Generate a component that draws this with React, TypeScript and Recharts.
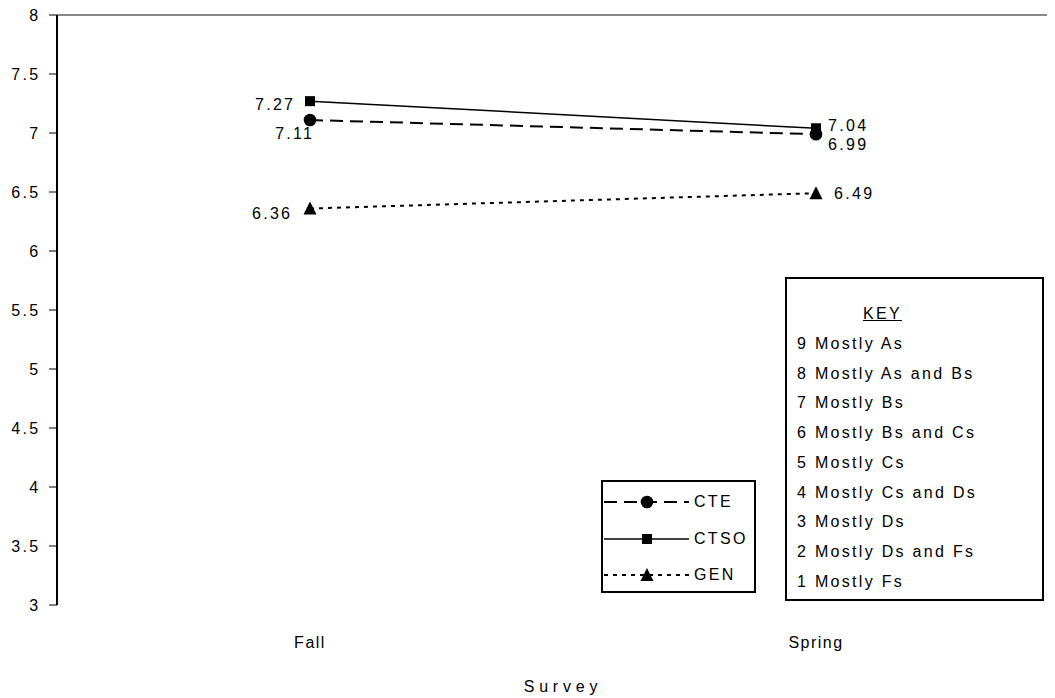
import { LineChart, Line, XAxis, YAxis, ReferenceLine, Legend, LabelList } from 'recharts'

// survey rounds
const seasons = ['Fall', 'Spring']

// average self-reported grades (9 = mostly As ... 1 = mostly Fs)
const cte = [7.11, 6.99]
const ctso = [7.27, 7.04]
const gen = [6.36, 6.49]

const yTicks = [3, 3.5, 4, 4.5, 5, 5.5, 6, 6.5, 7, 7.5, 8]

const keyItems = [
  '9 Mostly As',
  '8 Mostly As and Bs',
  '7 Mostly Bs',
  '6 Mostly Bs and Cs',
  '5 Mostly Cs',
  '4 Mostly Cs and Ds',
  '3 Mostly Ds',
  '2 Mostly Ds and Fs',
  '1 Mostly Fs',
]

const data = seasons.map((s, i) => ({ season: s, cte: cte[i], ctso: ctso[i], gen: gen[i] }))

const W = 1080
const H = 698
const LEFT = 57
const RIGHT = 11
const TOP = 15
const PLOT_W = W - LEFT - RIGHT
const FONT = 16
const LS = 2.3

type Shape = 'circle' | 'square' | 'triangle'

// per-series look, label placement (left label for Fall, right label for Spring)
const series = [
  { key: 'cte', name: 'CTE', dash: '13 7', width: 2, shape: 'circle' as Shape, dx: [4.3, 12], dy: [13, 10] },
  { key: 'ctso', name: 'CTSO', dash: undefined, width: 1.5, shape: 'square' as Shape, dx: [-14.7, 12], dy: [3, -3] },
  { key: 'gen', name: 'GEN', dash: '4 5', width: 2, shape: 'triangle' as Shape, dx: [-17.7, 18], dy: [5, 0] },
]

function Marker({ cx, cy, shape }: { cx: number; cy: number; shape: Shape }) {
  if (shape === 'circle') return <circle cx={cx} cy={cy} r={6.3} fill="#000" />
  if (shape === 'square') return <rect x={cx - 5} y={cy - 5} width={10} height={10} fill="#000" />
  return <polygon points={`${cx},${cy - 7} ${cx - 6.5},${cy + 6} ${cx + 6.5},${cy + 6}`} fill="#000" />
}

function LegendBox() {
  return (
    <div
      style={{
        width: 155,
        height: 113,
        boxSizing: 'border-box',
        border: '2px solid #000',
        background: '#fff',
        paddingTop: 2,
      }}
    >
      {series.map((s) => (
        <div key={s.key} style={{ height: 36.5, display: 'flex', alignItems: 'center' }}>
          <svg width={88} height={20} style={{ marginLeft: 1, display: 'block' }}>
            <line x1={0} y1={10} x2={85} y2={10} stroke="#000" strokeWidth={s.width} strokeDasharray={s.dash} />
            <Marker cx={43} cy={10} shape={s.shape} />
          </svg>
          <span style={{ marginLeft: 2, fontSize: FONT, color: '#000' }}>{s.name}</span>
        </div>
      ))}
    </div>
  )
}

function makeLabel(s: (typeof series)[number]) {
  return (props: any) => {
    const { x, y, value, index } = props
    const left = index === 0
    return (
      <text
        x={x + s.dx[index]}
        y={y + s.dy[index]}
        textAnchor={left ? 'end' : 'start'}
        dominantBaseline="central"
        fontSize={FONT}
        fill="#000"
      >
        {value.toFixed(2)}
      </text>
    )
  }
}

export default function App() {
  return (
    <div
      style={{
        position: 'relative',
        margin: '-8px -8px 0 -8px',
        width: 1055,
        height: 698,
        overflow: 'hidden',
        background: '#fff',
        fontFamily: '"Liberation Sans", Arial, sans-serif',
        letterSpacing: `${LS}px`,
      }}
    >
      <LineChart width={W} height={H} data={data} margin={{ top: TOP, right: RIGHT, bottom: 0, left: 0 }}>
        <XAxis
          xAxisId="marks"
          type="number"
          domain={[0, 2]}
          ticks={[0, 1, 2]}
          allowDataOverflow
          height={0}
          tick={false}
          tickSize={7}
          axisLine={{ stroke: '#000', strokeWidth: 2 }}
          tickLine={{ stroke: '#000', strokeWidth: 1 }}
        />
        <XAxis
          xAxisId="labels"
          dataKey="season"
          height={H - 605}
          padding={{ left: PLOT_W / 4, right: PLOT_W / 4 }}
          axisLine={false}
          tickLine={false}
          tickMargin={26}
          tick={{ fill: '#000', fontSize: FONT, letterSpacing: 1.5 }}
          label={{
            value: 'Survey',
            position: 'insideBottom',
            offset: 6,
            fill: '#000',
            fontSize: FONT,
            letterSpacing: 4.8,
            style: { letterSpacing: '4.8px' },
          }}
        />
        <YAxis
          domain={[3, 8]}
          ticks={yTicks}
          width={LEFT}
          interval={0}
          axisLine={{ stroke: '#000', strokeWidth: 2 }}
          tickLine={{ stroke: '#000' }}
          tickSize={8}
          tickMargin={8.5}
          tick={{ fill: '#000', fontSize: FONT }}
        />
        <ReferenceLine xAxisId="marks" y={8} stroke="#888" strokeWidth={2} />
        <Legend
          layout="vertical"
          align="center"
          verticalAlign="middle"
          wrapperStyle={{ position: 'absolute', left: 601, top: 480, width: 155, height: 113 }}
          content={() => <LegendBox />}
        />
        {series.map((s) => (
          <Line
            key={s.key}
            xAxisId="labels"
            dataKey={s.key}
            name={s.name}
            type="linear"
            stroke="#000"
            strokeWidth={s.width}
            strokeDasharray={s.dash}
            isAnimationActive={false}
            dot={(p: any) => <Marker key={`${s.key}-${p.index}`} cx={p.cx} cy={p.cy} shape={s.shape} />}
            activeDot={false}
          >
            <LabelList dataKey={s.key} content={makeLabel(s)} />
          </Line>
        ))}
      </LineChart>
      <div
        style={{
          position: 'absolute',
          left: 785,
          top: 277,
          width: 259,
          height: 324,
          boxSizing: 'border-box',
          border: '2px solid #000',
          background: '#fff',
          paddingTop: 20,
          fontSize: FONT,
          color: '#000',
          lineHeight: '29.75px',
        }}
      >
        <div style={{ marginLeft: 76 }}>
          <span style={{ textDecoration: 'underline' }}>KEY</span>
        </div>
        {keyItems.map((k) => (
          <div key={k} style={{ marginLeft: 10 }}>
            {k}
          </div>
        ))}
      </div>
    </div>
  )
}
